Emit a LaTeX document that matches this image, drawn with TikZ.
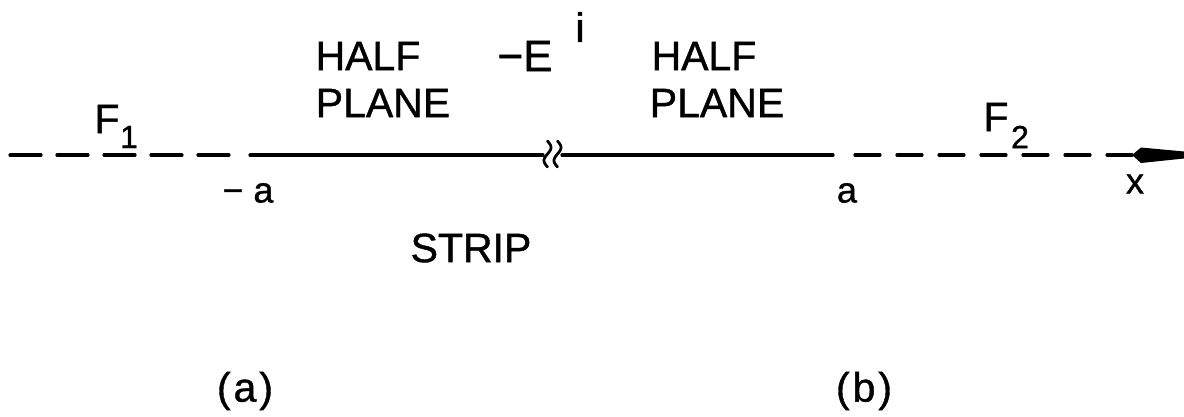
\documentclass[tikz,border=0pt]{standalone}
\usepackage{fontspec}
\setmainfont{Liberation Sans}[FakeBold=1]
\begin{document}
\begin{tikzpicture}[x=1pt,y=-1pt,
  lbl/.style={inner sep=0pt, font=\fontsize{41}{41}\selectfont},
  sml/.style={inner sep=0pt, font=\fontsize{36}{36}\selectfont},
  subs/.style={inner sep=0pt, font=\fontsize{32}{32}\selectfont},
  axisline/.style={line width=3.2pt, line cap=round},
  dashA/.style={axisline, dash pattern=on 31pt off 16pt},
  dashB/.style={axisline, dash pattern=on 25pt off 17pt},
  squig/.style={line width=2.8pt, line cap=round},
]
\useasboundingbox (0,0) rectangle (1184,416);
% axis coordinates
\coordinate (L0) at (10,155);
\coordinate (L1) at (229,155);
\coordinate (S0) at (250,155);
\coordinate (W0) at (543,155);
\coordinate (W1) at (562,155);
\coordinate (S1) at (833,155);
\coordinate (R0) at (855,155);
\coordinate (R1) at (1132,155);
% axis
\draw[dashA] (L0) -- (L1);
\draw[axisline] (S0) -- (W0);
\draw[axisline] (W1) -- (S1);
\draw[dashB] (R0) -- (R1);
% break symbol
\draw[squig] plot[smooth, domain=0:1, samples=25, variable=\t] ({547.5+3.5*sin(360*\t)}, {141+26*\t});
\draw[squig] plot[smooth, domain=0:1, samples=25, variable=\t] ({557.5+3.5*sin(360*\t)}, {141+26*\t});
% arrow head
\fill (R1) -- (1141,147.5) -- (1184,151.5) -- (1184,158.5) -- (1141,163) -- cycle;
% labels
\node[lbl] (F1) at (107,119) {F};
\node[subs] (F1s) at (129,137) {1};
\node[lbl] (F2) at (996,117) {F};
\node[subs] (F2s) at (1020,137) {2};
\node[lbl] (half1) at (368,56) {HALF};
\node[lbl] (plane1) at (383,103) {PLANE};
\node[lbl] (half2) at (704,56) {HALF};
\node[lbl] (plane2) at (717,103) {PLANE};
\node[lbl, font=\fontsize{44}{44}\selectfont] (E) at (525,56) {−E};
\node[lbl] (Ei) at (580,27) {i};
\node[sml] (ma) at (248,193) {− a};
\node[sml] (pa) at (847,193) {a};
\node[sml] (xl) at (1135,184) {x};
\node[lbl] (strip) at (471,248) {STRIP};
\node[lbl] (capa) at (245,391) {(\hspace{3pt}a\hspace{3pt})};
\node[lbl] (capb) at (864,391) {(\hspace{3pt}b\hspace{3pt})};
\end{tikzpicture}
\end{document}
